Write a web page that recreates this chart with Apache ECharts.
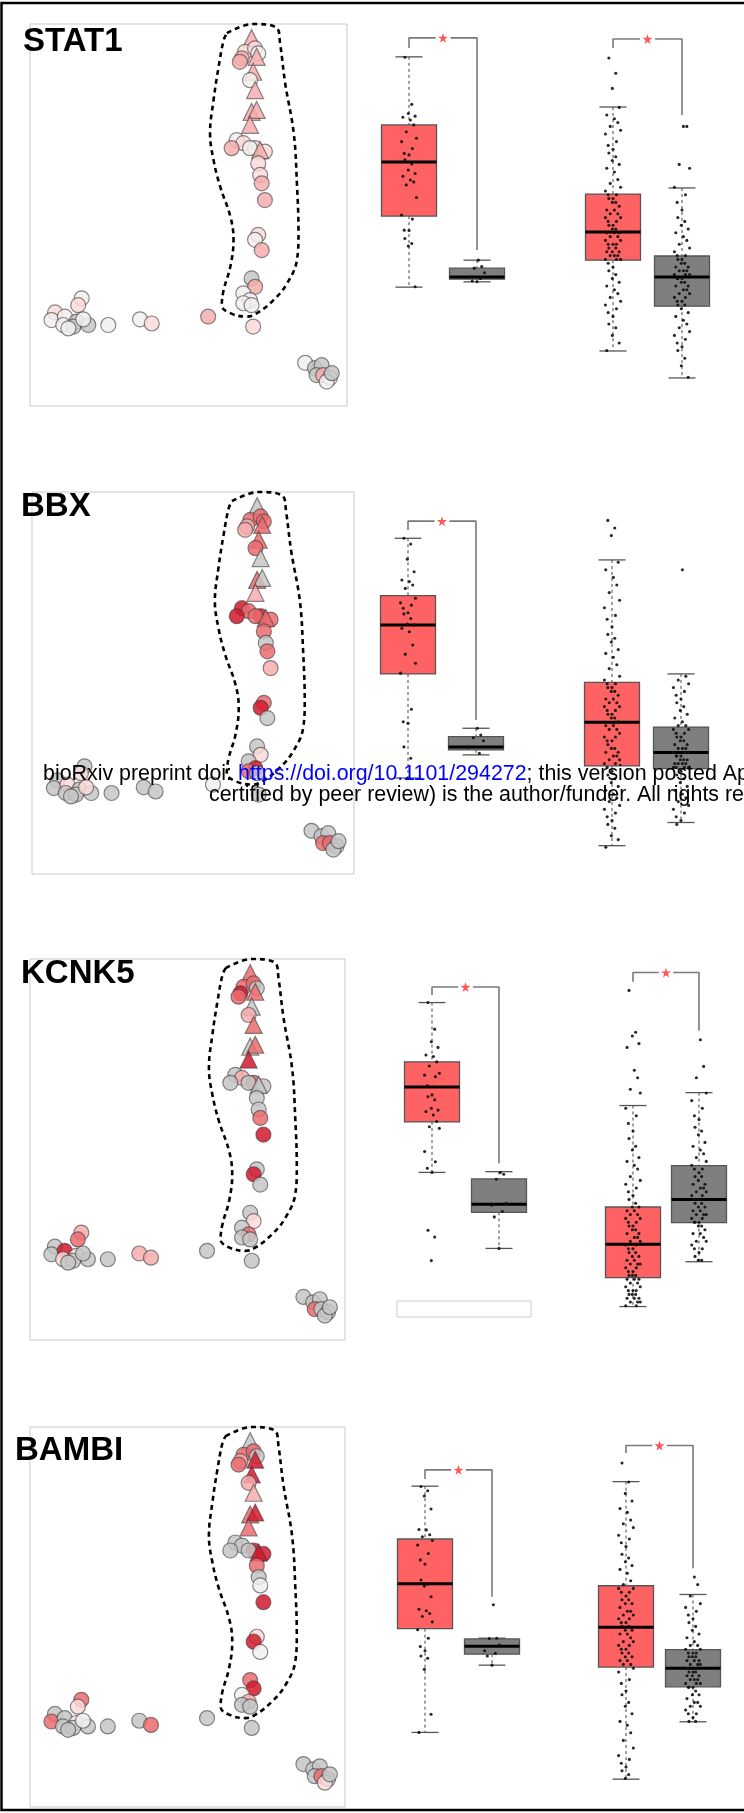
<!DOCTYPE html>
<html>
<head>
<meta charset="utf-8">
<script src="https://cdn.jsdelivr.net/npm/echarts@6/dist/echarts.min.js"></script>
<style>
html, body { margin: 0; padding: 0; background: #fff; }
#main { width: 744px; height: 1813px; }
</style>
</head>
<body>
<div id="main"></div>
<script>
// shared cell embedding (same layout in every gene panel), 0 = circle, 1 = triangle
var cellX = [69.9, 67.8, 66.8, 71.0, 72.0, 66.2, 71.5, 70.4, 69.4, 71.0, 69.9, 71.5, 69.4,
  65.2, 67.3, 63.6, 71.0, 74.1, 69.4, 72.6, 72.0, 72.6, 73.1, 74.1, 72.0, 71.0, 73.1,
  69.9, 71.0, 67.3, 69.4, 67.3, 69.9, 56.2, 70.4,
  16.3, 15.2, 7.9, 6.8, 11.0, 10.5, 14.7, 13.7, 18.4, 16.8, 12.1, 24.7, 34.7, 38.4,
  86.8, 89.9, 92.0, 90.4, 92.5, 94.6, 93.6, 95.2];
var cellY = [96.3, 92.7, 91.0, 93.6, 92.3, 90.1, 91.4, 87.5, 85.3, 82.7, 77.0, 77.5, 73.6,
  69.6, 68.8, 67.5, 67.5, 66.6, 67.5, 67.0, 63.5, 60.5, 58.3, 53.9, 44.8, 43.5, 40.8,
  33.4, 31.2, 29.5, 27.7, 26.9, 26.4, 23.4, 20.8,
  28.2, 26.4, 24.5, 22.5, 23.4, 21.2, 22.1, 20.8, 21.2, 22.7, 20.3, 21.2, 22.7, 21.6,
  11.3, 9.9, 10.7, 8.1, 8.1, 7.3, 6.4, 8.6];
var cellShape = [1, 0, 0, 0, 0, 0, 1, 1, 0, 1, 1, 1, 1, 0, 0, 0, 0, 0, 0, 1,
  0, 0, 0, 0, 0, 0, 0, 0, 0, 0, 0, 0, 0, 0, 0, 0, 0, 0, 0, 0, 0, 0, 0, 0, 0, 0, 0, 0, 0,
  0, 0, 0, 0, 0, 0, 0, 0];

// expression level per cell (0 = none/grey, 1..5 white -> red)
var stat1Levels = [3, 2, 3, 2, 1, 3, 3, 3, 1, 3, 3, 3, 3, 1, 2, 3, 2, 2, 1, 3, 2, 2, 3, 3, 2, 1, 3,
  0, 3, 1, 1, 1, 1, 3, 2, 1, 2, 2, 1, 1, 1, 0, 0, 0, 1, 1, 1, 1, 2, 1, 0, 0, 0, 3, 1, 1, 0];
var bbxLevels = [0, 4, 3, 4, 4, 3, 4, 4, 4, 0, 4, 0, 3, 5, 4, 5, 5, 4, 4, 4, 4, 0, 4, 3, 4, 5, 0,
  0, 2, 0, 5, 4, 0, 1, 0, 0, 2, 0, 0, 2, 0, 0, 0, 0, 2, 0, 0, 0, 0, 0, 0, 0, 4, 4, 0, 0, 0];
var kcnk5Levels = [4, 4, 5, 4, 0, 4, 4, 0, 3, 4, 0, 4, 5, 0, 3, 0, 4, 0, 0, 0, 0, 0, 4, 5, 0, 5, 0,
  0, 2, 0, 4, 0, 0, 0, 0, 3, 4, 0, 0, 5, 2, 2, 0, 0, 0, 0, 0, 3, 3, 0, 0, 0, 4, 0, 0, 0, 0];
var bambiLevels = [0, 4, 3, 4, 0, 4, 5, 5, 3, 3, 4, 5, 4, 0, 0, 0, 5, 5, 0, 5, 4, 0, 1, 5, 2, 5, 1,
  4, 5, 1, 3, 0, 0, 0, 0, 4, 2, 0, 4, 0, 0, 1, 0, 0, 1, 0, 0, 0, 4, 0, 0, 0, 0, 4, 0, 2, 0];

// dashed outline around the selected cluster
var outlineX = [62.1, 70.5, 77.9, 78.9, 80.5, 83.2, 84.2, 84.7, 84.2, 81.1, 76.8, 71.6, 68.4,
  63.2, 60.5, 61.1, 63.2, 64.2, 63.2, 60.0, 57.9, 56.8, 57.9, 59.5, 61.1];
var outlineY = [97.6, 100.0, 98.9, 94.9, 84.5, 71.4, 58.3, 45.2, 38.2, 32.1, 27.7, 24.3, 23.4,
  24.3, 26.4, 30.4, 36.5, 43.5, 49.6, 57.4, 64.4, 71.4, 80.1, 88.8, 95.8];

// boxplots: [group, low whisker, Q1, median, Q3, high whisker]
var stat1Box1 = [[1, 29.7, 48.4, 62.6, 72.4, 90.3], [2, 31.1, 31.8, 32.4, 34.7, 36.8]];
var stat1Box2 = [[1, 12.9, 36.8, 44.2, 54.2, 77.1], [2, 5.8, 24.7, 32.4, 37.9, 55.8]];
var bbxBox1 = [[1, 24.2, 51.6, 64.5, 72.2, 87.3], [2, 30.3, 31.6, 32.4, 35.1, 37.3]];
var bbxBox2 = [[1, 6.4, 27.4, 38.9, 49.4, 81.6], [2, 12.5, 26.7, 30.9, 37.6, 51.6]];
var kcnk5Box1 = [[1, 44.1, 57.4, 66.6, 73.2, 88.8], [2, 24.1, 33.6, 35.7, 42.4, 44.3]];
var kcnk5Box2 = [[1, 8.8, 16.4, 25.2, 35.0, 61.7], [2, 20.6, 30.9, 37.0, 45.9, 65.1]];
var bambiBox1 = [[1, 19.1, 46.4, 58.2, 70.0, 83.9], [2, 36.8, 39.7, 41.8, 43.7, 43.9]];
var bambiBox2 = [[1, 6.8, 36.3, 46.8, 57.7, 85.1], [2, 21.9, 31.1, 36.0, 40.9, 55.4]];

// individual samples
var stat1Dots1 = [90.2, 77.8, 75.4, 74.7, 74.4, 73.7, 72.4, 70.6, 68.9, 68.0, 66.2, 64.9, 64.5, 63.2, 62.1,
  60.5, 59.6, 58.9, 57.9, 57.4, 56.6, 53.3, 48.7, 47.6, 44.7, 44.6, 42.5, 41.2, 40.5, 29.8];
var stat1Dots2 = [36.8, 35.1, 34.7, 33.5, 32.4, 32.0, 31.3, 31.1];
var stat1Dots3 = [90, 86, 82, 77, 75, 74, 73, 72, 71, 70, 68, 67, 66, 65, 64, 63, 62, 61, 60, 58, 57, 56, 55,
  54, 54, 53, 53, 52, 52, 51, 50, 50, 49, 49, 48, 48, 47, 47, 46, 46, 45, 45, 44, 44, 44, 43, 43, 42, 42,
  41, 41, 41, 40, 40, 39, 39, 39, 38, 38, 38, 37, 37, 37, 36, 35, 34, 33, 32, 31, 30, 29, 28, 27, 26, 25,
  24, 23, 22, 20, 19, 17, 15, 13];
var stat1Dots4 = [72, 72, 62, 61, 56, 54, 52, 50, 48, 47, 46, 45, 44, 43, 42, 41, 40, 39, 38, 38, 37, 37, 36,
  36, 35, 35, 34, 34, 34, 33, 33, 33, 32, 32, 32, 31, 31, 30, 30, 29, 29, 28, 28, 27, 27, 26, 26, 25, 25,
  24, 23, 22, 21, 20, 19, 18, 17, 16, 15, 14, 13, 11, 9, 6];
var bbxDots1 = [87.3, 85.8, 81.8, 78.5, 76.3, 75.9, 75.0, 74.1, 71.5, 70.3, 69.7, 68.9, 67.7, 67.4, 66.2,
  64.7, 64.5, 63.6, 62.7, 59.2, 56.8, 54.4, 51.8, 42.3, 39.0, 38.6, 32.4, 29.4, 24.1];
var bbxDots2 = [37.3, 35.5, 34.8, 34.0, 32.4, 30.7];
var bbxDots3 = [92, 90, 88, 81, 79, 77, 75, 73, 71, 69, 67, 66, 64, 62, 61, 60, 58, 57, 56, 54, 53, 51, 50,
  49, 49, 48, 48, 47, 47, 46, 45, 45, 44, 44, 43, 43, 42, 42, 41, 41, 40, 40, 39, 38, 38, 37, 37, 36, 35,
  35, 34, 34, 33, 32, 32, 31, 31, 30, 30, 29, 29, 28, 28, 27, 26, 25, 24, 23, 22, 21, 20, 19, 18, 17, 16,
  15, 14, 13, 12, 11, 9, 8, 6];
var bbxDots4 = [79, 51, 50, 49, 48, 47, 46, 45, 44, 43, 42, 41, 40, 39, 38, 38, 37, 37, 36, 36, 35, 35, 34,
  34, 33, 33, 32, 32, 32, 31, 31, 31, 30, 30, 30, 29, 29, 29, 28, 28, 28, 28, 27, 27, 27, 27, 26, 25, 24,
  23, 22, 21, 20, 19, 18, 17, 16, 15, 14, 13, 12];
var kcnk5Dots1 = [88.8, 81.8, 78.5, 77.0, 75.0, 74.6, 73.2, 72.1, 70.2, 69.7, 69.3, 66.9, 64.5, 64.0, 63.2,
  61.0, 60.5, 60.1, 59.2, 57.5, 56.1, 55.7, 49.6, 46.9, 45.2, 44.1, 28.9, 27.1, 20.9];
var kcnk5Dots2 = [44.1, 43.6, 42.3, 36.0, 35.5, 33.8, 32.4, 24.1];
var kcnk5Dots3 = [92, 81, 80, 78, 77, 71, 69, 66, 65, 61, 59, 57, 55, 53, 51, 50, 48, 47, 46, 45, 43, 42, 41,
  40, 39, 38, 37, 36, 35, 35, 34, 34, 33, 33, 32, 32, 31, 31, 30, 30, 29, 29, 28, 28, 27, 27, 26, 26, 25,
  25, 24, 24, 23, 23, 22, 22, 21, 21, 20, 20, 20, 19, 19, 18, 18, 17, 17, 17, 16, 16, 16, 15, 15, 14, 14,
  13, 13, 13, 12, 12, 12, 11, 11, 11, 10, 10, 10, 9, 9];
var kcnk5Dots4 = [79, 72, 69, 65, 63, 61, 59, 58, 56, 55, 54, 52, 51, 50, 49, 48, 47, 46, 45, 45, 44, 43, 43,
  42, 41, 41, 40, 40, 39, 39, 38, 38, 37, 37, 36, 36, 35, 35, 34, 34, 33, 33, 33, 32, 32, 31, 31, 31, 30,
  30, 29, 28, 28, 27, 26, 26, 25, 24, 24, 23, 22, 21, 21];
var bambiDots1 = [83.8, 82.7, 81.3, 77.9, 72.5, 72.4, 71.1, 70.6, 69.6, 68.4, 66.2, 64.5, 63.4, 59.2, 58.1,
  57.6, 54.8, 51.5, 51.1, 50.4, 49.6, 48.2, 46.1, 43.9, 41.7, 40.6, 39.2, 38.6, 35.7, 23.9, 19.1];
var bambiDots2 = [52.7, 43.9, 43.8, 42.1, 40.6, 39.9, 39.2, 36.8];
var bambiDots3 = [90, 85, 82, 80, 78, 77, 75, 74, 73, 71, 70, 69, 68, 66, 65, 64, 63, 62, 61, 59, 58, 57, 57,
  56, 56, 55, 54, 54, 53, 53, 52, 51, 51, 50, 50, 49, 49, 48, 48, 47, 47, 46, 46, 45, 45, 44, 43, 43, 42,
  42, 41, 41, 40, 40, 39, 39, 38, 38, 37, 37, 36, 35, 33, 32, 30, 29, 27, 26, 24, 22, 21, 19, 17, 15, 13,
  12, 11, 10, 9, 8, 7];
var bambiDots4 = [60, 58, 55, 53, 52, 51, 50, 49, 48, 47, 46, 45, 44, 43, 42, 42, 41, 41, 40, 40, 40, 39, 39,
  39, 38, 38, 38, 37, 37, 37, 36, 36, 36, 35, 35, 35, 34, 34, 34, 33, 33, 33, 32, 32, 32, 31, 31, 31, 30,
  29, 29, 28, 27, 27, 26, 26, 25, 24, 24, 23, 22, 22];

// significance brackets: [left end, top, right end]
var stat1Brackets = [[92.6, 95.3, 39.5], [92.6, 95.0, 75.0]];
var bbxBrackets = [[89.5, 91.8, 39.5], null];
var kcnk5Brackets = [[90.8, 92.9, 46.5], [94.3, 96.7, 81.4]];
var bambiBrackets = [[85.8, 88.2, 54.8], [92.6, 94.6, 62.3]];

var palette = ['#c5c5c5', '#f2eeee', '#fbd9d9', '#f6adad', '#ea6b6f', '#d3192d'];
var boxColors = ['#fe6262', '#7f7f7f'];
var jitterOffsets = [-0.06, 0.04, -0.01, 0.09, -0.09, 0.02, 0.07, -0.04, 0.11, -0.11, 0.05, -0.07, 0.0];
var starPath = 'path://M50,0 L61,35 L98,35 L68,57 L79,91 L50,70 L21,91 L32,57 L2,35 L39,35 Z';

var rows = [
  { gene: 'STAT1', levels: stat1Levels, boxes: [stat1Box1, stat1Box2],
    dots: [[stat1Dots1, stat1Dots2], [stat1Dots3, stat1Dots4]], brackets: stat1Brackets,
    labelX: 23, labelBase: 53, cells: { left: 30, top: 24, width: 317, height: 382 },
    bandTop: 20, pairs: [{ left: 375, width: 136 }, { left: 578.5, width: 138 }] },
  { gene: 'BBX', levels: bbxLevels, boxes: [bbxBox1, bbxBox2],
    dots: [[bbxDots1, bbxDots2], [bbxDots3, bbxDots4]], brackets: bbxBrackets,
    labelX: 21, labelBase: 518, cells: { left: 32, top: 492, width: 322, height: 382 },
    bandTop: 490, pairs: [{ left: 374, width: 136 }, { left: 577.5, width: 138 }] },
  { gene: 'KCNK5', levels: kcnk5Levels, boxes: [kcnk5Box1, kcnk5Box2],
    dots: [[kcnk5Dots1, kcnk5Dots2], [kcnk5Dots3, kcnk5Dots4]], brackets: kcnk5Brackets,
    labelX: 21, labelBase: 985, cells: { left: 30, top: 959, width: 315, height: 381 },
    bandTop: 960, pairs: [{ left: 398.5, width: 134 }, { left: 600, width: 132 }] },
  { gene: 'BAMBI', levels: bambiLevels, boxes: [bambiBox1, bambiBox2],
    dots: [[bambiDots1, bambiDots2], [bambiDots3, bambiDots4]], brackets: bambiBrackets,
    labelX: 15, labelBase: 1462, cells: { left: 30, top: 1427, width: 315, height: 380 },
    bandTop: 1425, pairs: [{ left: 391.5, width: 134 }, { left: 592.5, width: 134 }] }
];

var option = { animation: false, backgroundColor: '#fff', grid: [], xAxis: [], yAxis: [], series: [], graphic: [] };

function addGrid(pos, xMin, xMax, frame) {
  var idx = option.grid.length;
  option.grid.push({ left: pos.left, top: pos.top, width: pos.width, height: pos.height,
    show: !!frame, borderColor: '#c9c9c9', borderWidth: 1, backgroundColor: 'rgba(0,0,0,0)' });
  option.xAxis.push({ type: 'value', gridIndex: idx, min: xMin, max: xMax, show: false });
  option.yAxis.push({ type: 'value', gridIndex: idx, min: 0, max: 100, show: false });
  return idx;
}

function cellData(levels) {
  return cellX.map(function (x, i) {
    var tri = cellShape[i] === 1;
    return { value: [x, cellY[i]], symbol: tri ? 'triangle' : 'circle', symbolSize: tri ? 17 : 15,
      itemStyle: { color: palette[levels[i]] } };
  });
}

var outlineData = outlineX.map(function (x, i) { return [x, outlineY[i]]; });
outlineData.push(outlineData[0]);

function renderBox(params, api) {
  var pos = api.value(0);
  var lo = api.coord([pos, api.value(1)]);
  var q1 = api.coord([pos, api.value(2)]);
  var md = api.coord([pos, api.value(3)]);
  var q3 = api.coord([pos, api.value(4)]);
  var hi = api.coord([pos, api.value(5)]);
  var cx = md[0], hw = 27.5, cw = 13.5;
  var dash = { stroke: '#444', lineWidth: 1, lineDash: [3, 3] };
  var cap = { stroke: '#555', lineWidth: 1.3 };
  return { type: 'group', children: [
    { type: 'line', shape: { x1: cx, y1: hi[1], x2: cx, y2: q3[1] }, style: dash },
    { type: 'line', shape: { x1: cx, y1: q1[1], x2: cx, y2: lo[1] }, style: dash },
    { type: 'line', shape: { x1: cx - cw, y1: hi[1], x2: cx + cw, y2: hi[1] }, style: cap },
    { type: 'line', shape: { x1: cx - cw, y1: lo[1], x2: cx + cw, y2: lo[1] }, style: cap },
    { type: 'rect', shape: { x: cx - hw, y: q3[1], width: hw * 2, height: q1[1] - q3[1] },
      style: { fill: boxColors[pos === 1 ? 0 : 1], stroke: '#555', lineWidth: 1.3 } },
    { type: 'line', shape: { x1: cx - hw, y1: md[1], x2: cx + hw, y2: md[1] }, style: { stroke: '#000', lineWidth: 3 } }
  ] };
}

rows.forEach(function (row) {
  var g = addGrid(row.cells, 0, 100, true);
  option.series.push({ type: 'scatter', xAxisIndex: g, yAxisIndex: g, silent: true,
    data: cellData(row.levels),
    itemStyle: { borderColor: 'rgba(60,60,60,0.7)', borderWidth: 1.2, opacity: 0.85 } });
  option.series.push({ type: 'line', xAxisIndex: g, yAxisIndex: g, silent: true, clip: false,
    data: outlineData, smooth: 0.4, symbol: 'none',
    lineStyle: { color: '#000', width: 2.6, type: [5, 4] } });

  row.pairs.forEach(function (p, k) {
    var gi = addGrid({ left: p.left, top: row.bandTop, width: p.width, height: 380 }, 0.5, 2.5, false);
    option.series.push({ type: 'custom', xAxisIndex: gi, yAxisIndex: gi, silent: true, clip: false,
      data: row.boxes[k], encode: { x: 0, y: [1, 2, 3, 4, 5] }, renderItem: renderBox });
    var pts = [];
    row.dots[k].forEach(function (vals, j) {
      vals.forEach(function (v, i) {
        pts.push([j + 1 + jitterOffsets[(i + j * 5) % jitterOffsets.length], v]);
      });
    });
    option.series.push({ type: 'scatter', xAxisIndex: gi, yAxisIndex: gi, silent: true,
      data: pts, symbolSize: 3.1, itemStyle: { color: '#111', opacity: 0.9 } });
    var b = row.brackets[k];
    if (b) {
      option.series.push({ type: 'line', xAxisIndex: gi, yAxisIndex: gi, silent: true, clip: false,
        data: [[1, b[0]], [1, b[1]], [1.39, b[1]], [1.5, '-'], [1.61, b[1]], [2, b[1]], [2, b[2]]],
        symbol: 'none', lineStyle: { color: '#7a7a7a', width: 1.6 } });
      option.series.push({ type: 'scatter', xAxisIndex: gi, yAxisIndex: gi, silent: true, clip: false,
        data: [[1.5, b[1]]], symbol: starPath, symbolSize: 10, itemStyle: { color: '#ff2a2a' } });
    }
  });

  option.graphic.push({ type: 'text', x: row.labelX, y: row.labelBase - 11.5, silent: true,
    style: { text: row.gene, font: 'bold 33px "Liberation Sans", Arial, sans-serif', fill: '#000',
      verticalAlign: 'middle', textVerticalAlign: 'middle' } });
});

// preprint watermark and leftover legend box
var wmFont = '21.4px "Liberation Sans", Arial, sans-serif';
option.graphic.push(
  { type: 'text', x: 43, y: 774.5, silent: true, z: 100,
    style: { text: '{k|bioRxiv preprint doi: }{u|https://doi.org/10.1101/294272}{k|; this version posted April 4, 2018. The copyright holder}',
      font: wmFont, fill: '#000', verticalAlign: 'middle', textVerticalAlign: 'middle',
      rich: { k: { font: wmFont, fill: '#000', color: '#000' }, u: { font: wmFont, fill: '#0000ff', color: '#0000ff' } } } },
  { type: 'text', x: 209, y: 795.5, silent: true, z: 100,
    style: { text: 'certified by peer review) is the author/funder. All rights reserved. No reuse allowed without permission.',
      font: wmFont, fill: '#000', verticalAlign: 'middle', textVerticalAlign: 'middle' } },
  { type: 'rect', silent: true, shape: { x: 397, y: 1301, width: 134, height: 16 },
    style: { fill: '#fff', stroke: '#cccccc', lineWidth: 1 } },
  { type: 'rect', silent: true, z: 100, shape: { x: 1.5, y: 3, width: 780, height: 1807 },
    style: { fill: 'none', stroke: '#000', lineWidth: 2.5 } }
);

var myChart = echarts.init(document.getElementById('main'), null, { renderer: 'canvas' });
myChart.setOption(option);
</script>
</body>
</html>
